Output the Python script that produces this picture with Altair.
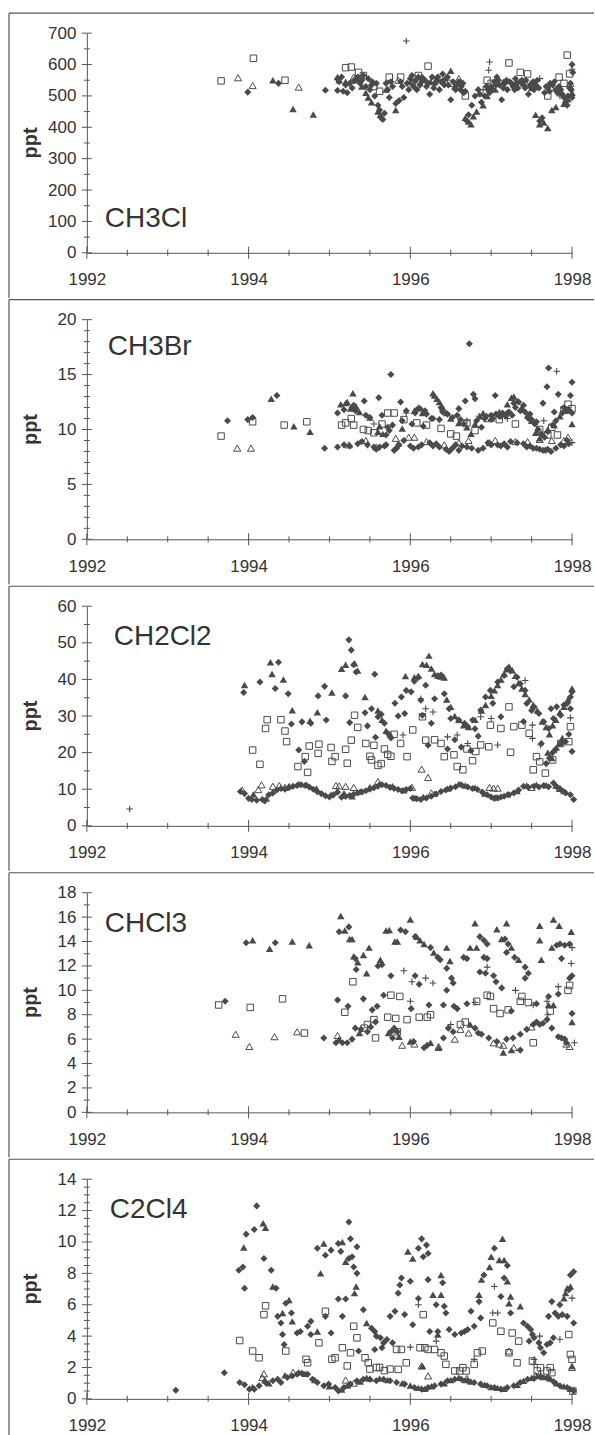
import altair as alt
import pandas as pd

FONT = "Liberation Sans"
MK = "#4a4a4a"
AXC = "#555555"
TXT = "#333333"

YEAR_LABELS = [1992, 1994, 1996, 1998]
YEAR_MINOR = [1992.5, 1993, 1993.5, 1994.5, 1995, 1995.5, 1996.5, 1997, 1997.5]

# ---------------- CH3Cl ----------------
CH3CL = {
    "diamond": [
        (1993.99, 512), (1994.37, 540), (1994.95, 518), (1995.1, 517), (1995.17, 515), (1995.22, 510),
        (1995.1, 555), (1995.12, 545), (1995.25, 540), (1995.3, 548), (1995.33, 555), (1995.38, 540),
        (1995.42, 565), (1995.45, 530), (1995.5, 520), (1995.53, 545), (1995.56, 500), (1995.58, 540),
        (1995.6, 470), (1995.62, 455), (1995.64, 430), (1995.66, 425), (1995.68, 445), (1995.7, 540),
        (1995.74, 495), (1995.78, 530), (1995.82, 476), (1995.86, 485), (1995.88, 545), (1995.92, 495),
        (1995.96, 540), (1996.0, 555), (1996.04, 530), (1996.08, 520), (1996.1, 560), (1996.14, 545),
        (1996.18, 550), (1996.2, 530), (1996.24, 505), (1996.27, 560), (1996.3, 540), (1996.33, 550),
        (1996.36, 520), (1996.4, 570), (1996.44, 555), (1996.47, 535), (1996.5, 488), (1996.53, 545),
        (1996.56, 520), (1996.6, 545), (1996.63, 530), (1996.66, 510), (1996.7, 420), (1996.72, 440),
        (1996.76, 470), (1996.8, 500), (1996.84, 520), (1996.88, 480), (1996.92, 500), (1996.96, 520),
        (1997.0, 530), (1997.04, 545), (1997.07, 560), (1997.1, 535), (1997.13, 488), (1997.17, 540),
        (1997.2, 520), (1997.23, 545), (1997.27, 530), (1997.3, 555), (1997.33, 525), (1997.36, 545),
        (1997.4, 535), (1997.43, 550), (1997.46, 505), (1997.5, 540), (1997.53, 520), (1997.57, 550),
        (1997.6, 420), (1997.63, 430), (1997.66, 510), (1997.7, 525), (1997.73, 540), (1997.76, 535),
        (1997.8, 520), (1997.84, 530), (1997.88, 505), (1997.92, 480), (1997.95, 500), (1997.98, 540),
        (1998.0, 600), (1998.01, 575), (1998.0, 495), (1997.97, 525),
        (1995.15, 560), (1995.2, 535), (1995.28, 525), (1995.35, 560), (1995.4, 550), (1995.48, 555),
        (1995.52, 535), (1995.72, 520), (1995.76, 545), (1995.9, 530), (1995.98, 520), (1996.02, 565),
        (1996.06, 548), (1996.12, 535), (1996.16, 555), (1996.22, 540), (1996.29, 525), (1996.34, 560),
        (1996.38, 545), (1996.42, 535), (1996.46, 560), (1996.58, 535), (1996.62, 520), (1996.65, 540),
        (1996.68, 515), (1996.86, 505), (1996.94, 530), (1996.98, 510), (1997.02, 520), (1997.06, 535),
        (1997.09, 550), (1997.15, 525), (1997.19, 550), (1997.25, 540), (1997.29, 520), (1997.32, 540),
        (1997.38, 550), (1997.42, 525), (1997.48, 530), (1997.52, 545), (1997.55, 535), (1997.59, 525),
        (1997.68, 530), (1997.72, 515), (1997.78, 545), (1997.82, 510), (1997.86, 520), (1997.9, 495),
        (1997.94, 470), (1997.99, 520),
    ],
    "triangle": [
        (1994.3, 550), (1994.55, 458), (1994.8, 441), (1995.1, 560), (1995.12, 550), (1995.4, 530),
        (1995.45, 510), (1995.48, 495), (1995.52, 480), (1995.6, 450), (1995.63, 440), (1995.82, 455),
        (1996.25, 545), (1996.5, 580), (1996.55, 530), (1996.68, 430), (1996.72, 418), (1996.75, 410),
        (1996.78, 435), (1996.82, 450), (1996.9, 470), (1996.95, 500), (1997.3, 540), (1997.55, 440),
        (1997.6, 410), (1997.65, 415), (1997.7, 398), (1997.75, 455), (1997.8, 465), (1997.9, 475),
        (1998.0, 510), (1995.2, 545), (1995.35, 550), (1995.7, 520), (1996.0, 545), (1996.15, 560),
        (1996.4, 550), (1996.62, 545), (1997.05, 520), (1997.15, 545), (1997.4, 540), (1997.5, 525),
        (1997.95, 490),
    ],
    "square": [
        (1993.66, 548), (1994.06, 620), (1994.45, 550), (1995.2, 590), (1995.27, 592), (1995.36, 575),
        (1995.42, 565), (1995.55, 530), (1995.62, 515), (1995.74, 560), (1995.88, 560), (1996.1, 565),
        (1996.22, 595), (1996.3, 545), (1996.5, 540), (1996.68, 500), (1996.95, 550), (1997.0, 540),
        (1997.22, 605), (1997.36, 575), (1997.45, 570), (1997.7, 500), (1997.84, 560), (1997.94, 630),
        (1997.97, 570), (1997.9, 540),
    ],
    "otriangle": [
        (1993.87, 558), (1994.05, 533), (1994.62, 528), (1995.3, 560), (1995.85, 550), (1996.08, 535),
        (1996.6, 555), (1997.42, 545), (1997.75, 525), (1997.98, 540),
    ],
    "plus": [
        (1995.95, 675), (1996.98, 608), (1996.97, 582), (1996.0, 540), (1996.9, 520), (1997.6, 555),
        (1997.85, 500), (1998.0, 585),
    ],
}

# ---------------- CH3Br ----------------
CH3BR = {
    "diamond": [
        (1993.74, 10.8), (1993.99, 10.9), (1994.05, 11.1), (1994.35, 13.1), (1994.94, 8.3), (1995.1, 8.4),
        (1995.1, 11.5), (1995.18, 8.6), (1995.25, 8.5), (1995.3, 12.2), (1995.35, 8.7), (1995.4, 8.9),
        (1995.43, 12.6), (1995.47, 8.6), (1995.5, 11.1), (1995.55, 8.4), (1995.58, 8.2), (1995.61, 12.9),
        (1995.65, 11.3), (1995.68, 8.5), (1995.72, 10.2), (1995.76, 15.0), (1995.8, 8.1), (1995.83, 8.3),
        (1995.86, 8.6), (1995.88, 12.5), (1995.9, 10.8), (1995.95, 11.7), (1996.0, 8.5), (1996.02, 10.5),
        (1996.06, 11.5), (1996.1, 8.4), (1996.12, 11.9), (1996.16, 10.3), (1996.2, 11.4), (1996.24, 8.8),
        (1996.28, 11.0), (1996.32, 8.7), (1996.36, 10.9), (1996.4, 11.6), (1996.44, 8.2), (1996.48, 8.0),
        (1996.52, 11.1), (1996.56, 8.6), (1996.6, 11.9), (1996.64, 8.5), (1996.68, 12.6), (1996.73, 17.8),
        (1996.76, 8.3), (1996.78, 13.2), (1996.8, 12.8), (1996.84, 8.1), (1996.88, 10.2), (1996.92, 11.0),
        (1996.96, 8.8), (1997.0, 11.3), (1997.05, 13.1), (1997.08, 8.6), (1997.12, 11.2), (1997.16, 8.7),
        (1997.2, 11.5), (1997.24, 8.9), (1997.28, 12.4), (1997.32, 8.8), (1997.36, 11.7), (1997.4, 12.2),
        (1997.44, 8.4), (1997.48, 11.4), (1997.52, 8.3), (1997.56, 10.7), (1997.6, 8.2), (1997.64, 12.4),
        (1997.67, 8.1), (1997.69, 13.9), (1997.71, 15.6), (1997.74, 8.0), (1997.78, 11.6), (1997.83, 13.2),
        (1997.86, 8.6), (1997.9, 12.0), (1997.94, 9.0), (1997.98, 13.1), (1998.0, 14.3), (1998.0, 11.5),
        (1995.18, 11.8), (1995.28, 12.0), (1995.32, 11.7), (1995.45, 11.3), (1995.7, 9.5), (1995.74, 9.9),
        (1995.78, 10.4), (1995.92, 9.0), (1996.08, 11.8), (1996.18, 11.7), (1996.26, 11.0), (1996.38, 12.0),
        (1996.46, 11.4), (1996.58, 11.3), (1996.62, 10.9), (1996.66, 10.5), (1996.82, 10.8), (1996.94, 11.2),
        (1997.02, 11.0), (1997.06, 11.4), (1997.1, 11.2), (1997.14, 11.5), (1997.18, 11.2), (1997.22, 11.6),
        (1997.26, 11.3), (1997.3, 12.0), (1997.34, 12.5), (1997.38, 11.8), (1997.42, 11.6), (1997.46, 11.0),
        (1997.5, 10.9), (1997.54, 10.5), (1997.58, 10.0), (1997.62, 9.6), (1997.66, 9.3), (1997.7, 9.8),
        (1997.76, 10.4), (1997.8, 10.8), (1997.88, 11.5), (1997.96, 11.8),
        (1995.62, 8.4), (1995.7, 8.6), (1996.04, 8.3), (1996.14, 8.6), (1996.28, 8.5), (1996.36, 8.4),
        (1996.52, 8.3), (1996.6, 8.1), (1996.7, 8.4), (1996.9, 8.3), (1997.0, 8.6), (1997.12, 8.5),
        (1997.2, 8.4), (1997.4, 8.7), (1997.48, 8.5), (1997.56, 8.3), (1997.64, 8.1), (1997.7, 8.2),
        (1997.8, 8.3), (1997.9, 8.5), (1997.96, 8.7),
    ],
    "triangle": [
        (1994.28, 12.8), (1994.56, 10.3), (1994.76, 9.8), (1995.14, 12.3), (1995.2, 12.4), (1995.22, 12.5),
        (1995.26, 11.9), (1995.29, 13.3), (1995.33, 12.1), (1995.37, 11.6), (1995.5, 11.1), (1995.6, 9.8),
        (1995.62, 10.3), (1995.66, 9.6), (1995.85, 8.7), (1995.9, 10.1), (1996.05, 11.7), (1996.1, 12.0),
        (1996.15, 11.5), (1996.28, 13.3), (1996.3, 13.1), (1996.33, 12.8), (1996.36, 12.5), (1996.4, 12.0),
        (1996.45, 11.5), (1996.5, 11.0), (1996.6, 10.6), (1996.7, 10.2), (1996.75, 9.6), (1996.8, 10.5),
        (1996.86, 11.2), (1996.9, 11.5), (1997.0, 11.0), (1997.1, 11.6), (1997.2, 12.3), (1997.25, 12.9),
        (1997.28, 13.0), (1997.32, 12.6), (1997.38, 12.0), (1997.45, 11.3), (1997.5, 10.8), (1997.55, 9.7),
        (1997.6, 9.2), (1997.7, 10.0), (1997.78, 10.4), (1997.85, 11.2), (1997.92, 11.7), (1998.0, 10.5),
    ],
    "square": [
        (1993.66, 9.4), (1994.05, 10.7), (1994.44, 10.4), (1994.72, 10.7), (1995.15, 10.4), (1995.2, 10.6),
        (1995.27, 11.0), (1995.3, 10.4), (1995.42, 10.0), (1995.48, 9.9), (1995.55, 9.7), (1995.65, 10.5),
        (1995.72, 11.5), (1995.8, 11.5), (1995.92, 10.9), (1996.08, 10.6), (1996.2, 10.4), (1996.38, 10.1),
        (1996.5, 9.6), (1996.57, 9.4), (1996.7, 10.6), (1996.8, 9.9), (1996.95, 11.0), (1997.1, 10.9),
        (1997.3, 10.5), (1997.6, 10.0), (1997.7, 9.5), (1997.75, 10.2), (1997.82, 9.5), (1997.9, 11.8),
        (1997.95, 12.3), (1998.0, 11.9),
    ],
    "otriangle": [
        (1993.86, 8.3), (1994.03, 8.3), (1995.24, 8.6), (1995.45, 9.0), (1995.58, 8.4), (1995.82, 9.2),
        (1995.98, 9.3), (1996.05, 9.3), (1996.2, 8.9), (1996.42, 8.6), (1996.6, 8.8), (1996.72, 9.0),
        (1996.98, 8.8), (1997.05, 9.0), (1997.3, 8.9), (1997.45, 8.9), (1997.6, 9.1), (1997.75, 9.0),
        (1997.9, 9.0), (1997.95, 9.3),
    ],
    "plus": [
        (1995.55, 10.5), (1995.95, 11.5), (1996.7, 10.8), (1996.85, 11.2), (1997.0, 10.9), (1997.2, 11.0),
        (1997.65, 10.8), (1997.81, 15.3), (1998.0, 8.8),
    ],
}

# ---------------- CH2Cl2 ----------------
CH2CL2 = {
    "diamond": [
        (1993.94, 36.4), (1994.14, 39.3), (1994.33, 37.5), (1994.37, 44.7), (1994.49, 36.1), (1994.53, 27.8),
        (1994.62, 20.7), (1994.66, 28.4), (1994.69, 17.6), (1994.77, 28.0), (1994.86, 35.5), (1994.94, 38.1),
        (1994.96, 28.9), (1995.2, 35.5), (1995.25, 28.2), (1995.24, 50.8), (1995.27, 48.0), (1995.3, 44.0),
        (1995.33, 42.0), (1995.44, 30.9), (1995.47, 27.3), (1995.56, 41.4), (1995.57, 24.2), (1995.52, 32.0),
        (1995.6, 29.8), (1995.64, 30.5), (1995.68, 28.0), (1995.72, 25.3), (1995.76, 24.0), (1995.81, 33.5),
        (1995.85, 30.0), (1995.89, 35.2), (1995.93, 30.7), (1995.95, 37.0), (1996.01, 36.6), (1996.05, 39.5),
        (1996.1, 40.5), (1996.13, 34.3), (1996.15, 30.2), (1996.19, 38.4), (1996.22, 22.0), (1996.26, 28.0),
        (1996.3, 34.7), (1996.34, 41.0), (1996.38, 41.2), (1996.42, 36.1), (1996.46, 21.0), (1996.48, 32.0),
        (1996.5, 29.3), (1996.55, 23.5), (1996.6, 28.9), (1996.63, 21.5), (1996.67, 28.0), (1996.71, 27.1),
        (1996.75, 20.5), (1996.77, 28.9), (1996.8, 26.5), (1996.84, 24.5), (1996.87, 31.6), (1996.93, 35.2),
        (1996.99, 37.0), (1997.02, 33.5), (1997.08, 39.3), (1997.12, 29.8), (1997.16, 41.1), (1997.2, 42.9),
        (1997.24, 42.4), (1997.28, 38.0), (1997.32, 40.6), (1997.36, 38.8), (1997.4, 28.5), (1997.42, 37.0),
        (1997.44, 33.4), (1997.5, 31.5), (1997.53, 32.5), (1997.59, 30.7), (1997.62, 22.5), (1997.65, 28.4),
        (1997.68, 17.0), (1997.71, 26.6), (1997.72, 18.5), (1997.74, 32.0), (1997.76, 20.0), (1997.77, 29.3),
        (1997.8, 21.0), (1997.81, 32.5), (1997.86, 30.2), (1997.87, 22.5), (1997.9, 33.0), (1997.92, 23.0),
        (1997.94, 33.4), (1997.96, 25.0), (1997.98, 35.2), (1998.0, 36.6), (1998.0, 20.3), (1997.98, 32.0),
        (1993.9, 9.4), (1993.95, 8.8), (1994.0, 7.5), (1994.04, 7.2), (1994.1, 7.0), (1994.17, 7.2),
        (1994.2, 6.8), (1994.25, 8.5), (1994.3, 9.0), (1994.35, 9.8), (1994.4, 10.2), (1994.45, 10.0),
        (1994.5, 10.5), (1994.55, 10.8), (1994.6, 11.0), (1994.65, 11.2), (1994.7, 11.0), (1994.75, 10.6),
        (1994.8, 10.0), (1994.85, 9.3), (1994.9, 8.8), (1994.95, 8.2), (1995.0, 7.9), (1995.05, 8.5),
        (1995.1, 9.2), (1995.15, 7.8), (1995.2, 8.0), (1995.25, 8.3), (1995.3, 8.6), (1995.35, 9.0),
        (1995.4, 9.3), (1995.45, 9.6), (1995.5, 10.0), (1995.55, 10.4), (1995.6, 10.8), (1995.65, 11.2),
        (1995.7, 11.0), (1995.75, 10.5), (1995.8, 10.2), (1995.85, 9.9), (1995.9, 9.6), (1995.95, 9.9),
        (1996.0, 10.2), (1996.03, 7.6), (1996.08, 7.4), (1996.13, 7.2), (1996.2, 7.6), (1996.26, 8.1),
        (1996.32, 8.7), (1996.38, 9.4), (1996.44, 9.8), (1996.5, 10.3), (1996.56, 10.7), (1996.63, 11.2),
        (1996.71, 10.6), (1996.77, 10.2), (1996.83, 9.9), (1996.89, 9.2), (1996.95, 8.5), (1997.0, 7.9),
        (1997.04, 7.5), (1997.08, 7.6), (1997.12, 7.9), (1997.16, 8.1), (1997.22, 8.5), (1997.28, 9.0),
        (1997.34, 9.8), (1997.4, 10.8), (1997.46, 10.5), (1997.53, 10.8), (1997.59, 10.6), (1997.65, 11.0),
        (1997.71, 10.7), (1997.77, 11.7), (1997.82, 10.5), (1997.86, 9.9), (1997.92, 9.0), (1997.98, 8.5),
        (1998.02, 7.2),
    ],
    "triangle": [
        (1993.95, 38.5), (1994.27, 44.7), (1994.29, 41.5), (1994.43, 40.0), (1994.54, 31.6), (1994.76, 28.7),
        (1994.85, 31.0), (1995.03, 36.4), (1995.15, 42.9), (1995.2, 44.0), (1995.31, 44.4), (1995.35, 42.4),
        (1995.44, 35.2), (1995.6, 31.5), (1995.65, 29.0), (1995.7, 26.0), (1995.75, 25.0), (1995.94, 40.9),
        (1996.05, 40.6), (1996.1, 41.0), (1996.15, 44.2), (1996.2, 44.0), (1996.23, 46.5), (1996.26, 43.0),
        (1996.3, 41.5), (1996.34, 41.0), (1996.38, 40.8), (1996.42, 40.5), (1996.45, 34.5), (1996.5, 32.5),
        (1996.55, 30.0), (1996.6, 29.0), (1996.66, 27.5), (1996.72, 27.0), (1996.8, 29.0), (1996.88, 31.5),
        (1996.93, 33.0), (1997.0, 35.5), (1997.04, 37.0), (1997.08, 38.5), (1997.12, 40.0), (1997.16, 41.5),
        (1997.19, 42.8), (1997.22, 43.5), (1997.26, 42.5), (1997.3, 41.0), (1997.34, 39.0), (1997.38, 37.5),
        (1997.42, 36.0), (1997.47, 34.5), (1997.52, 33.0), (1997.57, 31.5), (1997.63, 28.5), (1997.68, 27.0),
        (1997.72, 25.0), (1997.76, 27.5), (1997.8, 29.0), (1997.85, 31.0), (1997.9, 32.5), (1997.95, 34.5),
        (1998.0, 37.5), (1997.7, 20.0), (1997.75, 18.5), (1997.84, 22.5), (1997.88, 24.0),
        (1994.06, 8.6), (1994.22, 7.5), (1994.5, 10.9), (1994.62, 11.4), (1994.72, 11.2), (1994.84, 10.2),
        (1995.02, 8.5), (1995.18, 8.9), (1995.28, 8.1), (1995.38, 9.4), (1995.5, 10.6), (1995.62, 11.5),
        (1995.78, 10.8), (1995.92, 9.7), (1996.06, 7.6), (1996.16, 7.9), (1996.3, 8.8), (1996.46, 10.2),
        (1996.6, 11.4), (1996.68, 11.0), (1996.8, 10.4), (1996.92, 8.8), (1997.06, 7.8), (1997.2, 8.6),
        (1997.32, 9.5), (1997.44, 11.0), (1997.56, 11.2), (1997.68, 11.1), (1997.8, 11.0), (1997.9, 9.5),
    ],
    "square": [
        (1994.05, 20.7), (1994.14, 16.8), (1994.21, 26.6), (1994.23, 29.0), (1994.4, 29.0), (1994.45, 25.9),
        (1994.47, 23.0), (1994.61, 16.2), (1994.7, 18.9), (1994.73, 14.6), (1994.75, 21.8), (1994.86, 19.8),
        (1994.87, 22.3), (1995.02, 21.4), (1995.03, 17.6), (1995.07, 18.9), (1995.2, 20.9), (1995.22, 17.1),
        (1995.27, 23.4), (1995.31, 30.2), (1995.35, 26.9), (1995.45, 22.5), (1995.5, 19.0), (1995.52, 18.0),
        (1995.55, 22.0), (1995.6, 16.5), (1995.64, 17.0), (1995.68, 21.0), (1995.72, 19.5), (1995.76, 19.0),
        (1995.8, 25.0), (1995.88, 22.5), (1995.96, 18.9), (1996.03, 26.2), (1996.15, 29.8), (1996.19, 23.4),
        (1996.3, 23.5), (1996.38, 22.5), (1996.42, 18.9), (1996.54, 19.4), (1996.58, 16.2), (1996.65, 15.3),
        (1996.7, 21.0), (1996.77, 17.8), (1996.81, 20.3), (1996.87, 22.1), (1996.97, 21.6), (1996.99, 27.5),
        (1997.12, 26.6), (1997.22, 32.5), (1997.24, 20.1), (1997.28, 27.1), (1997.38, 27.5), (1997.47, 25.3),
        (1997.52, 15.3), (1997.56, 18.9), (1997.6, 17.5), (1997.67, 14.4), (1997.76, 18.0), (1997.86, 22.5),
        (1997.96, 23.0), (1997.98, 27.1),
    ],
    "otriangle": [
        (1993.92, 9.8), (1994.12, 9.9), (1994.16, 11.2), (1994.3, 10.8), (1994.38, 11.0), (1994.45, 10.5),
        (1995.08, 11.0), (1995.12, 10.9), (1995.2, 10.8), (1995.3, 10.5), (1995.6, 12.1), (1996.02, 10.5),
        (1996.14, 15.5), (1996.22, 13.2), (1996.26, 9.0), (1996.98, 10.5), (1997.03, 10.3), (1997.08, 10.3),
        (1997.5, 10.5), (1997.85, 10.2),
    ],
    "plus": [
        (1992.53, 4.6), (1995.91, 24.8), (1996.13, 34.7), (1996.19, 32.0), (1996.28, 31.1), (1996.46, 24.3),
        (1996.58, 24.8), (1996.71, 22.5), (1996.87, 29.8), (1997.0, 29.3), (1997.08, 22.1), (1997.42, 39.7),
        (1997.51, 27.5), (1997.51, 23.9), (1997.61, 22.1), (1997.81, 20.7), (1997.98, 29.5),
    ],
}

# ---------------- CHCl3 ----------------
CHCL3 = {
    "diamond": [
        (1993.71, 9.1), (1993.97, 13.9), (1994.33, 13.9), (1994.93, 6.1), (1995.08, 5.7), (1995.1, 9.2),
        (1995.12, 14.8), (1995.16, 5.7), (1995.22, 5.7), (1995.23, 8.7), (1995.24, 15.2), (1995.28, 6.0),
        (1995.32, 12.6), (1995.33, 11.7), (1995.32, 6.9), (1995.39, 6.8), (1995.42, 9.3), (1995.47, 6.6),
        (1995.51, 7.0), (1995.53, 8.4), (1995.57, 7.4), (1995.59, 8.7), (1995.6, 12.0), (1995.65, 12.1),
        (1995.67, 9.6), (1995.76, 11.2), (1995.76, 6.6), (1995.78, 6.1), (1995.8, 6.9), (1995.84, 6.6),
        (1995.88, 14.95), (1995.94, 14.8), (1996.01, 8.5), (1996.04, 5.8), (1996.06, 11.2), (1996.06, 14.4),
        (1996.11, 10.5), (1996.17, 5.3), (1996.21, 5.5), (1996.23, 8.8), (1996.25, 13.5), (1996.34, 12.7),
        (1996.37, 12.5), (1996.41, 8.8), (1996.41, 6.1), (1996.45, 11.8), (1996.45, 10.0), (1996.47, 6.9),
        (1996.51, 11.0), (1996.53, 10.6), (1996.53, 6.6), (1996.54, 8.7), (1996.58, 8.5), (1996.66, 12.7),
        (1996.7, 12.6), (1996.7, 8.9), (1996.8, 6.9), (1996.84, 6.5), (1996.86, 14.4), (1996.86, 11.5),
        (1996.88, 6.4), (1996.91, 14.1), (1996.91, 12.7), (1996.93, 11.4), (1996.95, 13.8), (1996.95, 12.6),
        (1996.97, 6.1), (1997.03, 11.2), (1997.06, 10.7), (1997.07, 5.8), (1997.13, 10.2), (1997.17, 14.2),
        (1997.19, 6.0), (1997.21, 13.8), (1997.19, 13.1), (1997.25, 8.3), (1997.27, 6.1), (1997.29, 12.7),
        (1997.36, 5.1), (1997.36, 6.4), (1997.42, 11.9), (1997.42, 11.0), (1997.44, 6.8), (1997.46, 11.4),
        (1997.52, 7.2), (1997.56, 8.9), (1997.56, 7.4), (1997.6, 7.2), (1997.64, 7.3), (1997.69, 7.6),
        (1997.71, 9.5), (1997.75, 6.9), (1997.81, 13.7), (1997.83, 9.7), (1997.83, 6.2), (1997.85, 13.8),
        (1997.87, 12.6), (1997.87, 6.1), (1997.91, 13.7), (1997.91, 6.0), (1997.93, 5.7), (1997.97, 13.8),
        (1997.97, 11.0), (1998.0, 11.2), (1998.0, 8.1),
    ],
    "triangle": [
        (1994.05, 14.1), (1994.26, 13.4), (1994.54, 14.0), (1994.75, 13.7), (1995.14, 16.1), (1995.19, 14.9),
        (1995.25, 14.2), (1995.28, 14.2), (1995.3, 12.8), (1995.35, 12.3), (1995.42, 12.9), (1995.46, 11.4),
        (1995.49, 13.5), (1995.63, 12.5), (1995.7, 14.9), (1995.74, 14.95), (1995.81, 14.0), (1995.84, 14.0),
        (1996.0, 15.8), (1996.08, 14.4), (1996.12, 14.1), (1996.17, 13.8), (1996.29, 13.1), (1996.45, 13.5),
        (1996.49, 12.4), (1996.74, 13.5), (1996.8, 15.5), (1996.82, 13.5), (1997.07, 15.0), (1997.13, 14.2),
        (1997.19, 15.5), (1997.25, 13.5), (1997.34, 12.5), (1997.6, 15.3), (1997.6, 14.1), (1997.62, 12.5),
        (1997.77, 15.8), (1997.84, 15.3), (1997.75, 13.5), (1997.99, 14.8), (1998.0, 7.4), (1995.12, 6.0),
        (1995.37, 6.5), (1995.73, 6.5), (1995.86, 6.2), (1996.0, 5.8), (1996.25, 5.7), (1996.35, 5.3),
        (1996.74, 7.2), (1997.15, 4.9), (1997.25, 5.1), (1997.71, 8.8), (1997.77, 8.8),
    ],
    "square": [
        (1993.63, 8.8), (1994.02, 8.6), (1994.42, 9.3), (1994.69, 6.5), (1995.19, 8.2), (1995.29, 10.7),
        (1995.43, 6.9), (1995.47, 7.2), (1995.55, 7.6), (1995.57, 6.1), (1995.72, 7.8), (1995.76, 9.6),
        (1995.82, 7.7), (1995.84, 6.6), (1995.87, 9.5), (1995.96, 7.6), (1996.11, 7.8), (1996.21, 7.8),
        (1996.25, 8.0), (1996.62, 7.2), (1996.68, 7.4), (1996.82, 9.1), (1996.95, 9.6), (1996.99, 9.5),
        (1997.03, 8.5), (1997.11, 8.1), (1997.21, 8.4), (1997.36, 9.1), (1997.38, 9.5), (1997.46, 9.0),
        (1997.52, 5.7), (1997.73, 8.3), (1997.95, 10.0), (1997.97, 10.4),
    ],
    "otriangle": [
        (1993.84, 6.4), (1994.01, 5.4), (1994.32, 6.2), (1994.6, 6.6), (1995.1, 6.3), (1995.9, 5.5),
        (1996.05, 5.6), (1996.35, 5.4), (1996.55, 6.0), (1996.62, 6.8), (1996.72, 6.5), (1997.03, 5.7),
        (1997.1, 5.6), (1997.15, 5.5), (1997.28, 5.3), (1997.5, 7.0), (1997.97, 5.4), (1997.93, 5.6),
    ],
    "plus": [
        (1995.92, 11.6), (1996.0, 9.1), (1996.02, 10.7), (1996.19, 11.0), (1996.28, 10.6), (1996.5, 7.2),
        (1996.8, 9.0), (1996.95, 11.9), (1997.3, 10.0), (1997.52, 8.8), (1997.69, 9.1), (1997.7, 8.0),
        (1997.83, 10.3), (1997.99, 12.2), (1998.03, 5.7), (1998.0, 13.5),
    ],
}

# ---------------- C2Cl4 ----------------
C2CL4 = {
    "diamond": [
        (1993.1, 0.55), (1993.7, 1.67), (1993.88, 8.2), (1993.93, 8.4), (1993.95, 7.05), (1993.97, 10.5),
        (1994.07, 10.8), (1994.1, 12.3), (1994.19, 8.95), (1994.28, 8.2), (1994.34, 7.05), (1994.36, 5.26),
        (1994.4, 4.84), (1994.42, 4.1), (1994.44, 3.47), (1994.46, 6.1), (1994.53, 5.47), (1994.6, 4.2),
        (1994.64, 4.3), (1994.73, 4.63), (1994.77, 4.94), (1994.77, 4.1), (1994.85, 9.6), (1994.95, 9.16),
        (1994.95, 5.26), (1995.02, 9.48), (1995.02, 4.2), (1995.11, 9.9), (1995.11, 6.36), (1995.14, 9.4),
        (1995.16, 5.26), (1995.2, 6.36), (1995.24, 11.27), (1995.26, 10.2), (1995.24, 8.95), (1995.28, 9.06),
        (1995.34, 9.7), (1995.3, 8.4), (1995.34, 8.0), (1995.36, 3.05), (1995.42, 5.68), (1995.52, 4.5),
        (1995.56, 4.3), (1995.56, 3.15), (1995.58, 4.0), (1995.63, 3.9), (1995.65, 3.26), (1995.67, 3.57),
        (1995.71, 3.78), (1995.75, 5.26), (1995.78, 3.57), (1995.81, 5.58), (1995.85, 6.74), (1995.87, 7.26),
        (1995.89, 7.7), (1995.93, 5.37), (1996.0, 7.5), (1996.03, 4.73), (1996.1, 9.6), (1996.1, 6.4),
        (1996.14, 10.2), (1996.16, 9.06), (1996.2, 9.8), (1996.22, 9.27), (1996.22, 7.6), (1996.24, 4.3),
        (1996.32, 6.0), (1996.34, 4.3), (1996.4, 7.4), (1996.42, 5.9), (1996.44, 5.47), (1996.48, 4.42),
        (1996.55, 4.1), (1996.63, 4.2), (1996.67, 4.3), (1996.71, 4.42), (1996.75, 5.58), (1996.79, 4.63),
        (1996.85, 6.2), (1996.87, 5.15), (1996.91, 7.9), (1997.04, 9.6), (1997.12, 6.53), (1997.16, 7.7),
        (1997.2, 8.5), (1997.24, 5.47), (1997.4, 4.84), (1997.45, 4.63), (1997.47, 3.68), (1997.49, 4.42),
        (1997.51, 4.1), (1997.53, 3.89), (1997.59, 3.57), (1997.61, 3.26), (1997.65, 2.94), (1997.69, 3.47),
        (1997.71, 5.26), (1997.73, 3.57), (1997.75, 6.2), (1997.77, 3.89), (1997.79, 5.47), (1997.83, 5.26),
        (1997.85, 6.0), (1997.88, 5.37), (1997.94, 5.26), (1997.96, 6.95), (1997.98, 7.9), (1998.02, 8.1),
        (1998.02, 4.84),
        (1993.89, 1.04), (1993.95, 0.9), (1994.01, 0.62), (1994.07, 0.62), (1994.13, 0.83), (1994.21, 1.04),
        (1994.3, 1.15), (1994.36, 1.25), (1994.4, 1.04), (1994.48, 1.36), (1994.54, 1.46), (1994.6, 1.57),
        (1994.66, 1.63), (1994.73, 1.57), (1994.79, 1.25), (1994.85, 1.04), (1994.93, 0.83), (1994.99, 0.94),
        (1995.07, 0.72), (1995.11, 0.51), (1995.18, 0.72), (1995.26, 0.94), (1995.34, 1.15), (1995.42, 1.25),
        (1995.5, 1.25), (1995.58, 1.15), (1995.67, 1.25), (1995.75, 1.15), (1995.83, 1.04), (1995.93, 0.94),
        (1996.05, 0.72), (1996.14, 0.62), (1996.22, 0.72), (1996.3, 0.83), (1996.38, 0.94), (1996.46, 1.15),
        (1996.55, 1.25), (1996.63, 1.25), (1996.71, 1.15), (1996.79, 1.04), (1996.87, 0.94), (1996.95, 0.83),
        (1997.04, 0.72), (1997.12, 0.62), (1997.2, 0.72), (1997.28, 0.83), (1997.36, 1.04), (1997.45, 1.25),
        (1997.53, 1.3), (1997.61, 1.4), (1997.69, 1.35), (1997.77, 1.1), (1997.85, 0.83), (1997.94, 0.72),
        (1998.02, 0.51),
    ],
    "triangle": [
        (1993.94, 9.65), (1994.18, 11.2), (1994.21, 10.9), (1994.3, 7.16), (1994.5, 6.3), (1994.42, 5.47),
        (1994.54, 4.94), (1994.85, 4.3), (1994.89, 8.0), (1994.93, 9.9), (1995.16, 10.0), (1995.2, 8.74),
        (1995.33, 7.16), (1995.31, 6.74), (1995.46, 4.84), (1995.97, 9.4), (1996.03, 8.95), (1996.28, 6.63),
        (1996.38, 7.9), (1996.38, 6.63), (1996.34, 4.1), (1996.85, 6.63), (1996.88, 7.6), (1996.98, 8.4),
        (1997.0, 9.06), (1997.1, 8.85), (1997.14, 10.2), (1997.16, 8.85), (1997.2, 7.5), (1997.24, 6.53),
        (1997.22, 6.1), (1997.36, 5.9), (1997.9, 6.42), (1997.92, 6.74), (1997.94, 7.05), (1997.98, 7.16),
        (1998.0, 2.1), (1996.15, 2.1), (1994.2, 1.2), (1995.5, 1.3),
        (1994.05, 0.75), (1994.25, 1.0), (1994.45, 1.5), (1994.62, 1.7), (1994.7, 1.6), (1994.82, 1.2),
        (1995.0, 0.8), (1995.15, 0.6), (1995.22, 0.85), (1995.38, 1.1), (1995.46, 1.35), (1995.62, 1.3),
        (1995.72, 1.2), (1995.9, 1.0), (1996.0, 0.85), (1996.1, 0.7), (1996.18, 0.65), (1996.26, 0.8),
        (1996.42, 1.0), (1996.5, 1.2), (1996.6, 1.35), (1996.68, 1.2), (1996.75, 1.1), (1996.92, 0.9),
        (1997.0, 0.75), (1997.08, 0.7), (1997.16, 0.65), (1997.32, 0.9), (1997.4, 1.15), (1997.5, 1.35),
        (1997.57, 1.45), (1997.65, 1.4), (1997.73, 1.3), (1997.81, 1.0), (1997.9, 0.8), (1997.98, 0.65),
    ],
    "square": [
        (1993.89, 3.72), (1994.05, 3.05), (1994.13, 2.62), (1994.19, 5.37), (1994.21, 5.93), (1994.46, 3.05),
        (1994.71, 2.52), (1994.73, 2.3), (1994.87, 3.57), (1994.95, 5.58), (1995.03, 2.52), (1995.07, 2.62),
        (1995.16, 3.26), (1995.22, 2.1), (1995.26, 2.94), (1995.3, 4.63), (1995.34, 3.89), (1995.44, 2.62),
        (1995.48, 2.3), (1995.5, 1.9), (1995.58, 2.0), (1995.62, 2.0), (1995.68, 1.8), (1995.75, 1.9),
        (1995.83, 3.15), (1995.85, 1.88), (1995.89, 3.15), (1995.95, 2.3), (1996.12, 3.26), (1996.16, 5.37),
        (1996.18, 3.26), (1996.22, 3.15), (1996.3, 3.15), (1996.38, 2.94), (1996.42, 2.73), (1996.44, 2.2),
        (1996.55, 1.78), (1996.61, 1.78), (1996.65, 1.99), (1996.69, 1.78), (1996.79, 2.2), (1996.83, 2.94),
        (1996.89, 3.05), (1997.02, 4.84), (1997.12, 4.31), (1997.22, 2.94), (1997.26, 4.2), (1997.32, 2.3),
        (1997.34, 3.68), (1997.51, 2.41), (1997.57, 1.78), (1997.61, 1.99), (1997.69, 1.78), (1997.73, 1.99),
        (1997.75, 1.67), (1997.96, 4.1), (1997.98, 2.83), (1998.0, 2.52), (1998.01, 0.5),
    ],
    "otriangle": [
        (1994.17, 1.36), (1994.19, 1.6), (1994.55, 1.7), (1995.2, 1.2), (1995.3, 1.0), (1996.14, 2.1),
        (1996.22, 1.46), (1996.7, 1.3), (1997.22, 3.05), (1997.55, 1.5), (1997.6, 1.6), (1998.0, 2.0),
    ],
    "plus": [
        (1996.1, 6.0), (1996.32, 3.68), (1996.79, 2.52), (1997.02, 5.47), (1997.04, 7.16), (1997.08, 5.47),
        (1997.53, 2.52), (1997.53, 2.2), (1997.6, 4.0), (1997.85, 3.8), (1998.0, 6.42), (1996.0, 3.3),
    ],
}

STYLES = {
    "diamond": dict(shape="diamond", size=50, filled=True, color=MK, opacity=1, strokeWidth=0),
    "triangle": dict(shape="triangle-up", size=56, filled=True, color=MK, opacity=1, strokeWidth=0),
    "square": dict(shape="square", size=42, filled=False, color=MK, opacity=1, strokeWidth=1),
    "otriangle": dict(shape="triangle-up", size=50, filled=False, color=MK, opacity=1, strokeWidth=1),
    "plus": dict(shape="M-1,0L1,0M0,-1L0,1", size=44, filled=False, color=MK, opacity=1, strokeWidth=1.1),
}

W = 486
H = 220


def make_panel(name, series, ymax, ymajor, yminor, lx, ly):
    frames = []
    for key, pts in series.items():
        f = pd.DataFrame(pts, columns=["year", "value"])
        f["series"] = key
        frames.append(f)
    df = pd.concat(frames, ignore_index=True)

    xs = alt.Scale(domain=[1992, 1998], nice=False, zero=False)
    ys = alt.Scale(domain=[0, ymax], nice=False, zero=True)

    xaxis = alt.Axis(
        values=YEAR_LABELS, format="d", ticks=False, title=None, grid=False,
        labelFont=FONT, labelFontSize=17, labelColor=TXT, labelPadding=19,
        labelFlush=False, domainColor=AXC, domainWidth=1)
    yaxis = alt.Axis(
        values=ymajor, ticks=False, title=None, grid=False,
        labelFont=FONT, labelFontSize=17, labelColor=TXT, labelPadding=11,
        domainColor=AXC, domainWidth=1)

    layers = []
    one = pd.DataFrame({"a": [0]})
    # panel border (top and left)
    layers.append(alt.Chart(one).mark_rule(color=AXC, strokeWidth=1.2).encode(
        x=alt.value(-78), x2=alt.value(508), y=alt.value(-20)))
    layers.append(alt.Chart(one).mark_rule(color=AXC, strokeWidth=1.2).encode(
        x=alt.value(-78), y=alt.value(-20), y2=alt.value(265)))

    for key, style in STYLES.items():
        layers.append(alt.Chart(df).transform_filter(alt.datum.series == key)
                      .mark_point(**style).encode(
                          x=alt.X("year:Q", scale=xs, axis=xaxis),
                          y=alt.Y("value:Q", scale=ys, axis=yaxis)))

    # tick marks crossing the axes
    layers.append(alt.Chart(pd.DataFrame({"value": ymajor})).mark_rule(color=AXC, strokeWidth=1).encode(
        y=alt.Y("value:Q", scale=ys, axis=yaxis), x=alt.value(-5), x2=alt.value(5)))
    layers.append(alt.Chart(pd.DataFrame({"value": yminor})).mark_rule(color=AXC, strokeWidth=1).encode(
        y=alt.Y("value:Q", scale=ys, axis=yaxis), x=alt.value(-3), x2=alt.value(3)))
    layers.append(alt.Chart(pd.DataFrame({"year": YEAR_LABELS})).mark_rule(color=AXC, strokeWidth=1).encode(
        x=alt.X("year:Q", scale=xs, axis=xaxis), y=alt.value(H - 6), y2=alt.value(H + 6)))
    layers.append(alt.Chart(pd.DataFrame({"year": YEAR_MINOR})).mark_rule(color=AXC, strokeWidth=1).encode(
        x=alt.X("year:Q", scale=xs, axis=xaxis), y=alt.value(H - 3), y2=alt.value(H + 3)))

    # compound label
    layers.append(alt.Chart(pd.DataFrame({"t": [name]})).mark_text(
        align="left", baseline="alphabetic", font=FONT, fontSize=28, color=TXT).encode(
        text="t:N", x=alt.value(lx), y=alt.value(ly)))
    # y title
    layers.append(alt.Chart(pd.DataFrame({"t": ["ppt"]})).mark_text(
        align="center", baseline="middle", angle=270, font=FONT, fontSize=20,
        fontWeight="bold", color=TXT).encode(
        text="t:N", x=alt.value(-56), y=alt.value(110)))

    return alt.layer(*layers).properties(width=W, height=H)


p1 = make_panel("CH3Cl", CH3CL, 700, [0, 100, 200, 300, 400, 500, 600, 700],
                [50, 150, 250, 350, 450, 550, 650], 18, 194)
p2 = make_panel("CH3Br", CH3BR, 20, [0, 5, 10, 15, 20],
                [1, 2, 3, 4, 6, 7, 8, 9, 11, 12, 13, 14, 16, 17, 18, 19], 21, 35)
p3 = make_panel("CH2Cl2", CH2CL2, 60, [0, 10, 20, 30, 40, 50, 60],
                [5, 15, 25, 35, 45, 55], 27, 39)
p4 = make_panel("CHCl3", CHCL3, 18, [0, 2, 4, 6, 8, 10, 12, 14, 16, 18],
                [1, 3, 5, 7, 9, 11, 13, 15, 17], 18, 39)
p5 = make_panel("C2Cl4", C2CL4, 14, [0, 2, 4, 6, 8, 10, 12, 14],
                [0.5, 1, 1.5, 2.5, 3, 3.5, 4.5, 5, 5.5, 6.5, 7, 7.5, 8.5, 9, 9.5,
                 10.5, 11, 11.5, 12.5, 13, 13.5], 23, 39)

chart = alt.vconcat(p1, p2, p3, p4, p5, spacing=0).properties(
    padding={"left": 8, "top": 11, "right": 0, "bottom": 0}
).configure_view(stroke=None).configure_concat(spacing=0)

chart.save("out.html", embed_options={"renderer": "svg", "actions": False})
